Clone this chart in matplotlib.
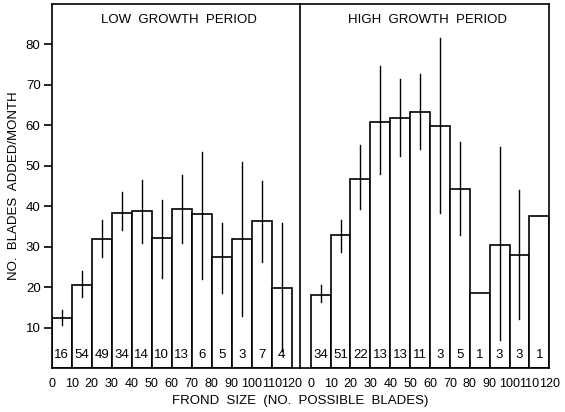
import numpy as np
import matplotlib
matplotlib.use("Agg")
import matplotlib.pyplot as plt

plt.rcParams["font.family"] = ["Liberation Sans", "DejaVu Sans"]

# 叶状体大小分组 (下边界), 每组宽 10
edges = np.arange(0, 120, 10)

# 低生长期
low_mean = [12.5, 20.6, 32.0, 38.4, 38.9, 32.1, 39.3, 38.0, 27.5, 31.9, 36.3, 19.9]
low_hi   = [14.5, 24.0, 36.5, 43.4, 46.4, 41.5, 47.7, 53.4, 35.9, 50.9, 46.2, 35.9]
low_lo   = [10.7, 17.5, 27.5, 34.1, 30.9, 22.4, 30.9, 22.0, 18.6, 12.9, 26.3, 4.3]
low_n    = [16, 54, 49, 34, 14, 10, 13, 6, 5, 3, 7, 4]

# 高生长期 (n=1 的组无误差线)
high_mean = [18.1, 32.8, 46.7, 60.8, 61.8, 63.3, 59.8, 44.2, 18.5, 30.5, 27.9, 37.6]
high_hi   = [20.5, 36.7, 55.0, 74.5, 71.4, 72.7, 81.4, 55.9, None, 54.5, 44.1, None]
high_lo   = [16.3, 28.8, 39.3, 47.9, 52.4, 54.1, 38.2, 32.9, None, 7.1, 12.1, None]
high_n    = [34, 51, 22, 13, 13, 11, 3, 5, 1, 3, 3, 1]

xticks = np.arange(0, 130, 10)

W, H = 565, 412
fig = plt.figure(figsize=(W / 100, H / 100), dpi=100)
bot = (H - 368.3) / H
hgt = (368.3 - 3.5) / H
axL = fig.add_axes([51.7 / W, bot, (300 - 51.7) / W, hgt])
axR = fig.add_axes([300 / W, bot, (549.3 - 300) / W, hgt])


def draw(ax, mean, hi, lo, n, title):
    ax.bar(edges, mean, width=10, align="edge", facecolor="white",
           edgecolor="black", linewidth=1.2)
    for x, h, l in zip(edges, hi, lo):
        if h is not None:
            ax.plot([x + 5, x + 5], [l, h], color="black", lw=1.0)
    for x, c in zip(edges, n):
        ax.text(x + 5, 3.3, str(c), ha="center", va="center", fontsize=9.5)
    ax.set_ylim(0, 90)
    ax.set_xticks(xticks)
    ax.set_xticklabels([str(v) for v in xticks], fontsize=9)
    ax.tick_params(axis="x", length=0, pad=7)
    ax.text(0.512, 0.955, title, transform=ax.transAxes, ha="center",
            va="center", fontsize=9.5)
    for s in ax.spines.values():
        s.set_linewidth(1.2)


draw(axL, low_mean, low_hi, low_lo, low_n, "LOW  GROWTH  PERIOD")
draw(axR, high_mean, high_hi, high_lo, high_n, "HIGH  GROWTH  PERIOD")

axL.set_xlim(0, 124.15)
axR.set_xlim(-5.4, 120)

axL.set_yticks(np.arange(10, 90, 10))
axL.tick_params(axis="y", direction="out", length=6, width=1.2, labelsize=9.5, pad=2)
axL.set_ylabel("NO.  BLADES  ADDED/MONTH", fontsize=9.5, labelpad=4)
axL.spines["right"].set_visible(False)
axR.set_yticks([])

fig.text(300 / W, 1 - 401 / H, "FROND  SIZE  (NO.  POSSIBLE  BLADES)",
         ha="center", va="center", fontsize=9.5)

fig.savefig("out.png", dpi=100)
